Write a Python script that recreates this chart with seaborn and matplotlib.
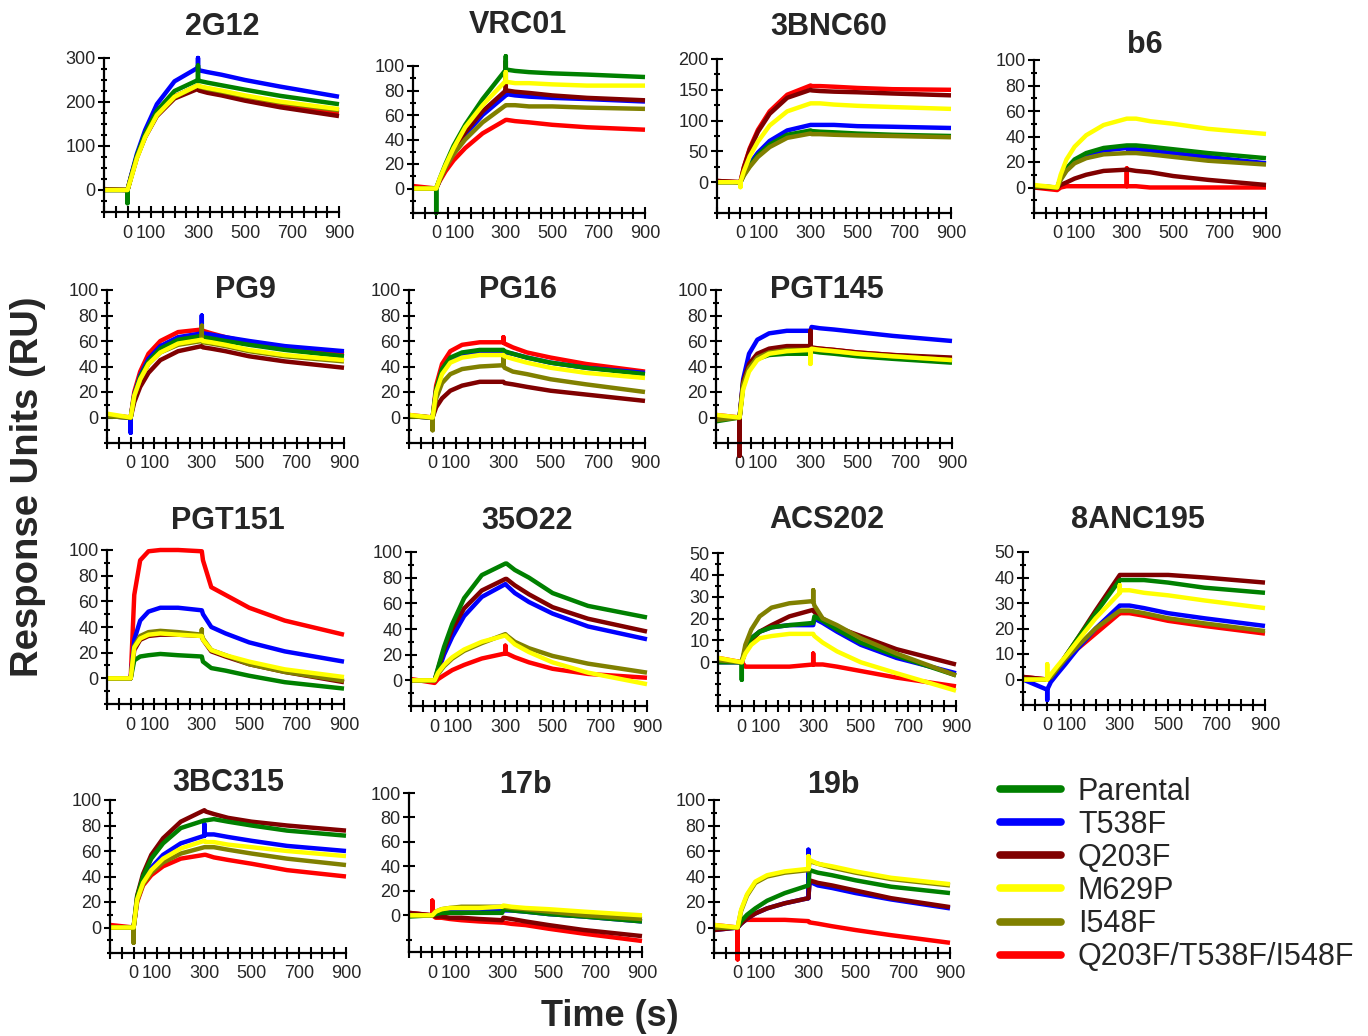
import numpy as np
import pandas as pd
import matplotlib
matplotlib.use("Agg")
import matplotlib.pyplot as plt
import seaborn as sb
from matplotlib.lines import Line2D
from matplotlib.ticker import MultipleLocator, FixedLocator

# sampling times (s) shared by all sensorgrams
T = [-100, 0, 15, 40, 75, 125, 200, 300, 305, 340, 400, 500, 650, 900]

VARIANTS = ["Parental", "T538F", "Q203F", "M629P", "I548F", "Q203F/T538F/I548F"]
COLORS = ["#008000", "#0000FF", "#800000", "#FFFF00", "#808000", "#FF0000"]
DRAW_ORDER = ["Q203F/T538F/I548F", "T538F", "Q203F", "Parental", "I548F", "M629P"]
XLABELS = [0, 100, 300, 500, 700, 900]

# values per variant, in VARIANTS order
ru_2G12 = [
    [0, 0, 30, 78, 128, 180, 225, 250, 248, 244, 238, 228, 214, 195],
    [0, 0, 32, 82, 136, 195, 247, 278, 272, 268, 262, 250, 235, 212],
    [2, 0, 28, 74, 120, 168, 208, 230, 226, 221, 215, 203, 188, 168],
    [0, 0, 26, 72, 120, 170, 212, 238, 236, 232, 226, 215, 201, 184],
    [0, 0, 28, 74, 121, 171, 211, 238, 235, 230, 224, 213, 199, 181],
    [2, 0, 30, 76, 123, 173, 213, 235, 231, 226, 220, 208, 194, 176],
]
ru_VRC01 = [
    [0, 0, 8, 20, 35, 52, 73, 97, 97, 96, 95, 94, 93, 91],
    [0, 0, 7, 18, 30, 44, 60, 76, 77, 76, 75, 74, 73, 71],
    [0, 0, 7, 18, 31, 46, 63, 80, 80, 79, 78, 76, 74, 72],
    [0, 0, 8, 19, 33, 50, 68, 88, 87, 86, 86, 85, 84, 84],
    [0, 0, 7, 17, 28, 40, 54, 68, 68, 68, 67, 67, 66, 65],
    [2, 0, 6, 14, 23, 33, 45, 56, 56, 55, 54, 52, 50, 48],
]
ru_3BNC60 = [
    [0, 0, 12, 27, 44, 61, 77, 84, 83, 82, 81, 79, 77, 75],
    [0, 0, 13, 30, 48, 67, 84, 93, 93, 93, 93, 91, 90, 88],
    [2, 0, 24, 53, 82, 111, 137, 150, 149, 148, 147, 146, 144, 141],
    [0, 0, 18, 42, 66, 92, 115, 128, 128, 128, 126, 124, 122, 119],
    [0, 0, 11, 25, 41, 57, 72, 79, 78, 78, 77, 76, 75, 73],
    [2, 0, 25, 55, 85, 115, 142, 157, 156, 156, 155, 153, 151, 150],
]
ru_b6 = [
    [1, 0, 7, 15, 22, 27, 31, 33, 33, 33, 32, 30, 27, 23],
    [1, 0, 7, 14, 21, 26, 29, 31, 30, 30, 29, 27, 24, 19],
    [0, 0, 2, 4, 7, 10, 13, 14, 14, 13, 12, 9, 6, 2],
    [2, 0, 10, 22, 32, 41, 49, 54, 54, 54, 52, 50, 46, 42],
    [1, 0, 6, 13, 19, 23, 26, 27, 27, 27, 26, 24, 21, 18],
    [0, -2, 0, 1, 1, 1, 1, 1, 1, 1, 0, 0, 0, 0],
]
ru_PG9 = [
    [1, 0, 17, 32, 44, 54, 61, 64, 63, 62, 60, 57, 53, 48],
    [1, 0, 18, 33, 46, 56, 63, 66, 66, 65, 63, 60, 56, 52],
    [1, 0, 12, 24, 35, 45, 52, 56, 55, 54, 52, 48, 44, 39],
    [3, 0, 17, 30, 42, 51, 58, 61, 60, 59, 57, 53, 49, 45],
    [1, 0, 17, 30, 42, 51, 57, 60, 59, 58, 56, 52, 48, 44],
    [2, 0, 20, 36, 50, 60, 67, 69, 68, 66, 63, 59, 55, 50],
]
ru_PG16 = [
    [1, 0, 22, 38, 47, 51, 53, 53, 52, 50, 47, 43, 39, 34],
    [1, 0, 21, 37, 46, 50, 52, 52, 51, 50, 47, 43, 39, 35],
    [1, 0, 8, 15, 21, 25, 28, 28, 27, 26, 24, 21, 18, 13],
    [2, 0, 20, 34, 43, 47, 49, 49, 48, 46, 43, 39, 35, 31],
    [1, 0, 15, 27, 34, 38, 40, 41, 39, 36, 34, 30, 26, 20],
    [2, 0, 25, 42, 52, 57, 59, 59, 58, 55, 51, 47, 42, 36],
]
ru_PGT145 = [
    [-3, 0, 24, 38, 46, 49, 50, 50, 52, 51, 50, 48, 46, 43],
    [0, 0, 30, 50, 61, 66, 68, 68, 71, 70, 69, 67, 64, 60],
    [0, 0, 28, 42, 50, 54, 56, 56, 55, 54, 53, 51, 49, 47],
    [2, 0, 22, 36, 45, 50, 52, 53, 54, 53, 52, 50, 48, 45],
    [-2, 0, 26, 39, 47, 51, 53, 53, 53, 53, 52, 50, 48, 45],
    [2, 0, 27, 41, 49, 53, 55, 55, 54, 54, 53, 51, 49, 46],
]
ru_PGT151 = [
    [0, 0, 14, 17, 18, 19, 18, 17, 13, 8, 6, 2, -3, -8],
    [0, 0, 30, 45, 52, 55, 55, 53, 50, 40, 35, 28, 21, 13],
    [0, 0, 22, 30, 33, 34, 34, 33, 30, 21, 17, 11, 5, -3],
    [0, 0, 24, 31, 34, 35, 34, 33, 30, 22, 18, 13, 7, 1],
    [0, 0, 25, 33, 36, 37, 36, 34, 31, 22, 18, 11, 5, -2],
    [0, 0, 65, 92, 99, 100, 100, 99, 92, 71, 65, 55, 45, 34],
]
ru_35O22 = [
    [0, 0, 10, 26, 44, 64, 82, 91, 91, 86, 80, 68, 58, 49],
    [0, 0, 7, 20, 34, 50, 65, 75, 74, 68, 61, 52, 42, 32],
    [0, 0, 9, 24, 40, 56, 70, 79, 79, 74, 67, 57, 48, 38],
    [0, 0, 6, 12, 18, 24, 30, 35, 34, 28, 22, 14, 6, -3],
    [0, 0, 5, 11, 17, 23, 29, 36, 35, 30, 25, 19, 13, 6],
    [1, -2, 1, 4, 8, 12, 17, 21, 21, 18, 14, 9, 5, 2],
]
ru_ACS202 = [
    [0, 0, 6, 11, 14, 16, 17, 18, 21, 19, 15, 9, 3, -6],
    [0, 0, 6, 11, 14, 16, 17, 17, 20, 18, 14, 8, 2, -5],
    [1, 0, 5, 10, 14, 17, 21, 24, 23, 20, 16, 12, 6, -1],
    [2, 0, 4, 8, 11, 12, 13, 13, 12, 9, 5, 0, -5, -13],
    [1, 0, 8, 15, 21, 25, 27, 28, 26, 20, 17, 11, 4, -6],
    [2, 0, -2, -2, -2, -2, -2, -1, -1, -1, -2, -4, -7, -11],
]
ru_8ANC195 = [
    [0, 0, 1, 4, 9, 16, 26, 39, 39, 39, 39, 38, 36, 34],
    [0, -4, -1, 2, 6, 12, 20, 29, 29, 29, 28, 26, 24, 21],
    [1, 0, 1, 4, 9, 16, 27, 41, 41, 41, 41, 41, 40, 38],
    [0, 0, 2, 5, 9, 15, 24, 34, 35, 35, 34, 33, 31, 28],
    [0, 0, 1, 4, 8, 13, 20, 27, 27, 27, 26, 24, 22, 19],
    [1, 0, 0, 3, 7, 12, 18, 26, 26, 26, 25, 23, 21, 18],
]
ru_3BC315 = [
    [0, 0, 24, 40, 54, 66, 78, 84, 84, 85, 83, 80, 76, 72],
    [0, 0, 22, 36, 47, 57, 66, 72, 73, 73, 71, 68, 64, 60],
    [0, 0, 25, 42, 57, 70, 83, 92, 91, 89, 86, 83, 80, 76],
    [0, 0, 22, 35, 45, 54, 62, 68, 67, 67, 65, 63, 60, 56],
    [0, 0, 21, 34, 43, 51, 58, 63, 63, 63, 61, 58, 54, 49],
    [2, 0, 20, 33, 41, 48, 54, 57, 57, 55, 53, 50, 45, 40],
]
ru_17b = [
    [-1, 0, 1, 2, 2, 2, 2, 2, 5, 4, 3, 1, -1, -5],
    [0, 0, 2, 3, 4, 4, 4, 4, 4, 4, 3, 1, -1, -5],
    [2, 0, -1, -1, -2, -2, -3, -4, -2, -3, -5, -8, -12, -17],
    [0, 0, 3, 5, 6, 6, 6, 7, 8, 7, 6, 5, 3, 0],
    [0, 0, 3, 5, 6, 7, 7, 7, 7, 6, 5, 3, 0, -3],
    [2, 0, -2, -2, -3, -4, -5, -6, -6, -7, -8, -11, -15, -21],
]
ru_19b = [
    [0, 0, 5, 10, 15, 21, 27, 33, 45, 43, 41, 37, 32, 27],
    [-2, 0, 3, 7, 11, 15, 19, 23, 36, 33, 31, 27, 22, 15],
    [-2, 0, 3, 7, 11, 15, 19, 23, 37, 35, 33, 29, 23, 16],
    [2, 0, 14, 26, 36, 41, 44, 46, 53, 50, 48, 44, 39, 34],
    [0, 0, 13, 25, 35, 40, 43, 45, 52, 50, 47, 43, 38, 33],
    [2, 0, 5, 6, 6, 6, 6, 5, 4, 3, 1, -2, -6, -12],
]

# injection artefacts at t = 0 or 300 s: (variant, time, RU peak)
spk_2G12 = [("T538F", 300, 300), ("Parental", 300, 283), ("Parental", 0, -30)]
spk_VRC01 = [("Parental", 300, 108), ("Q203F", 300, 104), ("M629P", 300, 95), ("Parental", 0, -20)]
spk_3BNC60 = [("M629P", 0, -8)]
spk_b6 = [("Q203F/T538F/I548F", 300, 15)]
spk_PG9 = [("T538F", 300, 80), ("I548F", 300, 72), ("T538F", 0, -12)]
spk_PG16 = [("Q203F/T538F/I548F", 300, 63), ("I548F", 300, 47), ("I548F", 0, -10)]
spk_PGT145 = [("Q203F", 300, 68), ("M629P", 300, 42), ("Q203F", 0, -30)]
spk_PGT151 = [("I548F", 300, 38)]
spk_35O22 = [("Q203F/T538F/I548F", 300, 27)]
spk_ACS202 = [("I548F", 300, 33), ("Q203F/T538F/I548F", 300, 4), ("Parental", 0, -8)]
spk_8ANC195 = [("M629P", 300, 37), ("M629P", 0, 6), ("T538F", 0, -8)]
spk_3BC315 = [("T538F", 300, 81), ("I548F", 0, -12)]
spk_17b = [("Q203F/T538F/I548F", 0, 12)]
spk_19b = [("T538F", 300, 61), ("M629P", 300, 56), ("Q203F/T538F/I548F", 0, -25)]

# name, values, artefacts, y range, labelled y step, minor y step
panels = [
    ("2G12", ru_2G12, spk_2G12, (-50, 300), 100, 25),
    ("VRC01", ru_VRC01, spk_VRC01, (-20, 100), 20, 10),
    ("3BNC60", ru_3BNC60, spk_3BNC60, (-50, 200), 50, 25),
    ("b6", ru_b6, spk_b6, (-20, 100), 20, 10),
    ("PG9", ru_PG9, spk_PG9, (-20, 100), 20, 10),
    ("PG16", ru_PG16, spk_PG16, (-20, 100), 20, 10),
    ("PGT145", ru_PGT145, spk_PGT145, (-20, 100), 20, 10),
    ("PGT151", ru_PGT151, spk_PGT151, (-20, 100), 20, 10),
    ("35O22", ru_35O22, spk_35O22, (-20, 100), 20, 10),
    ("ACS202", ru_ACS202, spk_ACS202, (-20, 50), 10, 5),
    ("8ANC195", ru_8ANC195, spk_8ANC195, (-10, 50), 10, 5),
    ("3BC315", ru_3BC315, spk_3BC315, (-20, 100), 20, 10),
    ("17b", ru_17b, spk_17b, (-30, 100), 20, 20),
    ("19b", ru_19b, spk_19b, (-20, 100), 20, 10),
]

# pixel boxes (left, top, right, bottom) and title centres
W, H = 1368, 1036
boxes = [
    (104, 58, 339, 212), (413, 66, 645, 213), (717, 59, 951, 213), (1034, 60, 1266, 213),
    (107, 290, 344, 443), (409, 290, 645, 443), (716, 290, 952, 443),
    (107, 550, 344, 704), (411, 552, 647, 706), (718, 553, 956, 706), (1023, 552, 1265, 705),
    (110, 800, 346, 953), (409, 793, 642, 952), (714, 800, 950, 953),
]
titles = [
    (222, 27), (518, 25), (829, 27), (1145, 45),
    (245, 290), (518, 290), (827, 290),
    (228, 521), (527, 521), (827, 520), (1138, 520),
    (228, 783), (525, 785), (833, 785),
]

sb.set_style("ticks")
plt.rcParams['font.family'] = ['Liberation Sans', 'DejaVu Sans']

palette = dict(zip(VARIANTS, COLORS))
fig = plt.figure(figsize=(W / 100, H / 100), dpi=100)


def build_frame(values, spikes):
    rows = []
    for var, vals in zip(VARIANTS, values):
        for t, v in zip(T, vals):
            rows.append((var, t, v))
    for var, t, v in spikes:
        base = values[VARIANTS.index(var)][T.index(t)]
        rows.append((var, t, v))
        rows.append((var, t, base))
    df = pd.DataFrame(rows, columns=["variant", "t", "RU"])
    return df.sort_values("t", kind="stable")


for (name, values, spikes, ylim, ystep, yminor), box, tpos in zip(panels, boxes, titles):
    l, t, r, b = box
    ax = fig.add_axes([l / W, 1 - b / H, (r - l) / W, (b - t) / H])
    df = build_frame(values, spikes)
    sb.lineplot(data=df, x="t", y="RU", hue="variant", hue_order=DRAW_ORDER,
                palette=palette, estimator=None, sort=False, linewidth=3.2,
                legend=False, ax=ax)
    for ln in ax.lines:
        ln.set_clip_on(False)
        ln.set_solid_capstyle("butt")
    ax.set_xlim(-100, 900)
    ax.set_ylim(*ylim)
    ax.set_xlabel("")
    ax.set_ylabel("")
    ax.xaxis.set_major_locator(FixedLocator(XLABELS))
    ax.xaxis.set_minor_locator(MultipleLocator(50))
    ax.yaxis.set_major_locator(FixedLocator(list(range(0, ylim[1] + 1, ystep))))
    ax.yaxis.set_minor_locator(MultipleLocator(yminor))
    ax.tick_params(which="both", direction="inout", width=1.5, labelsize=13, color="black")
    ax.tick_params(which="major", length=8)
    ax.tick_params(axis="y", which="minor", length=5)
    ax.tick_params(axis="x", which="minor", length=8)
    ax.tick_params(axis="x", pad=5)
    ax.tick_params(axis="y", pad=2)
    for s in ["left", "bottom"]:
        ax.spines[s].set_linewidth(1.6)
        ax.spines[s].set_color("black")
    sb.despine(ax=ax)
    ax.patch.set_alpha(0)
    fig.text(tpos[0] / W, 1 - tpos[1] / H, name, ha="center", va="center",
             fontsize=22, fontweight="bold")

handles = [Line2D([0], [0], color=c, lw=5.5) for c in COLORS]
fig.legend(handles, VARIANTS, loc="upper left", bbox_to_anchor=(1000 / W, 1 - 777 / H),
           frameon=False, fontsize=22, handlelength=2.0, handletextpad=0.55,
           labelspacing=0.1, borderpad=0, borderaxespad=0)

fig.text(28 / W, 1 - 487 / H, "Response Units (RU)", rotation=90, ha="center",
         va="center", fontsize=27.5, fontweight="bold")
fig.text(610 / W, 1 - 1016 / H, "Time (s)", ha="center", va="center",
         fontsize=26, fontweight="bold")

fig.savefig("out.png", dpi=100)
